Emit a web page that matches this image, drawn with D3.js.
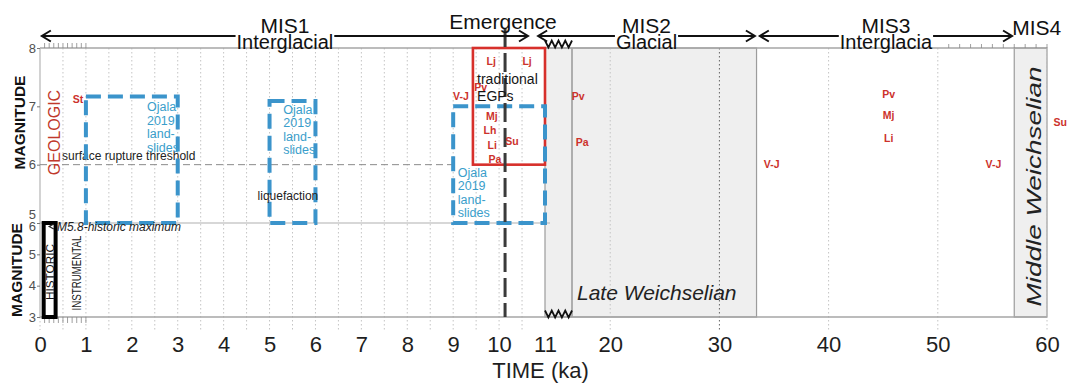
<!DOCTYPE html>
<html>
<head>
<meta charset="utf-8">
<script src="https://cdn.jsdelivr.net/npm/d3@7"></script>
<style>
  html, body { margin: 0; padding: 0; background: #fff; }
  svg { display: block; font-family: "Liberation Sans", Arial, Helvetica, sans-serif; }
</style>
</head>
<body>
<svg id="chart" width="1067" height="385"></svg>
<script>
// ---- time axis (ka) ----
const holoceneTicks = [0, 1, 2, 3, 4, 5, 6, 7, 8, 9, 10, 11];
const pleistoceneTicks = [20, 30, 40, 50, 60];
const breakAge = 16.5;              // axis break between 11 ka and the compressed older scale

// ---- magnitude axes ----
const geologicMagTicks = [5, 6, 7, 8];
const instrumentalMagTicks = [3, 4, 5, 6];

// ---- marine isotope stages ----
const stageNames = ["MIS1", "MIS2", "MIS3"];
const stageSubtitles = ["Interglacial", "Glacial", "Interglacia"];
const stageStarts = [0.04, 10.85, 33.7];
const stageEnds = [10.63, 33.25, 56.8];
const lastStageName = "MIS4";
const lastStageStart = 57;

// ---- glacial periods (shaded) ----
const lateWeichselian = [11, 33.4];
const middleWeichselian = [57, 60];

// ---- Ojala 2019 landslide windows ----
const landslideStart = [1, 5, 9];
const landslideEnd = [3, 6, 11];
const landslideBase = [5, 5, 5];
const landslideTop = [7.17, 7.09, 7.0];
const landslideLabelAge = [2.33, 5.3, 9.1];
const landslideLabelMag = [6.92, 6.87, 5.79];
const landslideLabelLines = ["Ojala", "2019", "land-", "slides"];

// ---- traditional EGP window ----
const egpAges = [9.43, 11];
const egpMags = [6, 8];
const egpLabelLines = ["traditional", "EGPs"];
const egpLabelAge = 9.52;
const egpLabelMags = [7.38, 7.1];

// ---- emergence ----
const emergenceAge = 10.13;

// ---- historic / instrumental record ----
const historicAges = [0.08, 0.34];
const historicMags = [3, 6];
const surfaceRuptureMag = 6;
const surfaceRuptureEnd = 9;

// ---- dated events ----
const eventCodes = ["St", "V-J", "Pv", "Lj", "Lj", "Mj", "Lh", "Li", "Pa", "Su",
                    "Pv", "Pa", "V-J", "Pv", "Mj", "Li", "V-J", "Su"];
const eventAges  = [0.83, 9.17, 9.6, 9.83, 10.61, 9.84, 9.8, 9.85, 9.91, 10.28,
                    17.07, 17.44, 34.78, 45.5, 45.5, 45.5, 55.1, 61.2];
const eventMags  = [7.13, 7.18, 7.33, 7.78, 7.78, 6.83, 6.59, 6.34, 6.1, 6.41,
                    7.18, 6.38, 6.01, 7.2, 6.84, 6.45, 6.0, 6.73];

// ---- scales ----
const x = d3.scaleLinear().domain([0, 11, breakAge, 60]).range([40, 545, 572, 1047]);
const yGeo = d3.scaleLinear().domain([5, 8]).range([223, 48]);
const yInst = d3.scaleLinear().domain([3, 6]).range([317, 223]);

const plotTop = yGeo(8), plotBottom = yInst(3), panelSplit = yGeo(5);
const xLeft = x(0), xRight = x(60);

const RED = "#cc322c", BLUE = "#3b94cb", BLUE_TXT = "#3a9ecb", GRID = "#c4c4c4", FRAME = "#a6a6a6";

const svg = d3.select("#chart");

// ---- shaded glacial periods ----
[lateWeichselian, middleWeichselian].forEach(p => {
  svg.append("rect")
    .attr("x", x(p[0])).attr("y", plotTop)
    .attr("width", x(p[1]) - x(p[0])).attr("height", plotBottom - plotTop)
    .attr("fill", "#efefef").attr("stroke", "#9c9c9c").attr("stroke-width", 1.2);
});
svg.append("line")
  .attr("x1", x(breakAge)).attr("x2", x(breakAge))
  .attr("y1", plotTop).attr("y2", plotBottom)
  .attr("stroke", "#999").attr("stroke-width", 1.5);

// ---- dotted vertical grid ----
const halfKa = d3.range(0.5, 11, 0.5);
svg.append("g").selectAll("line").data(halfKa).join("line")
  .attr("x1", d => x(d)).attr("x2", d => x(d))
  .attr("y1", plotTop).attr("y2", plotBottom + 13)
  .attr("stroke", GRID).attr("stroke-width", 1).attr("stroke-dasharray", "1.5,2.5");
svg.append("g").selectAll("line").data(pleistoceneTicks).join("line")
  .attr("x1", d => x(d)).attr("x2", d => x(d))
  .attr("y1", plotTop).attr("y2", plotBottom + 13)
  .attr("stroke", d => d === 30 ? "#666" : GRID).attr("stroke-width", 1)
  .attr("stroke-dasharray", "1.5,2.5");
svg.append("line")
  .attr("x1", xLeft).attr("x2", xLeft).attr("y1", plotBottom).attr("y2", plotBottom + 13)
  .attr("stroke", GRID).attr("stroke-dasharray", "1.5,2.5");

// ---- frame lines ----
svg.append("line").attr("x1", xLeft).attr("x2", xRight).attr("y1", plotTop).attr("y2", plotTop)
  .attr("stroke", FRAME).attr("stroke-width", 1.5);
svg.append("line").attr("x1", xLeft).attr("x2", xRight).attr("y1", plotBottom).attr("y2", plotBottom)
  .attr("stroke", FRAME).attr("stroke-width", 1.5);
svg.append("line").attr("x1", xLeft).attr("x2", xLeft).attr("y1", plotTop).attr("y2", plotBottom)
  .attr("stroke", "#b5b5b5").attr("stroke-width", 1.2);
svg.append("line").attr("x1", xLeft).attr("x2", x(11) + 5).attr("y1", panelSplit).attr("y2", panelSplit)
  .attr("stroke", "#b0b0b0").attr("stroke-width", 1.2);

// minor ticks
svg.append("g").selectAll("line").data(d3.range(0.1, 1.01, 0.1)).join("line")
  .attr("x1", d => x(d)).attr("x2", d => x(d)).attr("y1", plotTop).attr("y2", plotTop - 5)
  .attr("stroke", "#888").attr("stroke-width", 0.8);
svg.append("g").selectAll("line").data(d3.range(0.1, 1.01, 0.1)).join("line")
  .attr("x1", d => x(d)).attr("x2", d => x(d)).attr("y1", plotBottom).attr("y2", plotBottom + 6)
  .attr("stroke", "#888").attr("stroke-width", 0.8);
svg.append("g").selectAll("line").data(d3.range(51, 60.5, 1)).join("line")
  .attr("x1", d => x(d)).attr("x2", d => x(d)).attr("y1", plotTop).attr("y2", plotTop - 4)
  .attr("stroke", "#888").attr("stroke-width", 0.8);

// ---- axis-break zigzags ----
function zigzag(yc) {
  const n = 8, x0 = x(11), x1 = x(breakAge);
  const pts = d3.range(n + 1).map(i => [x0 + (x1 - x0) * i / n, yc + (i % 2 ? 3.5 : -3.5)]);
  svg.append("path").attr("d", d3.line()(pts))
    .attr("fill", "none").attr("stroke", "#111").attr("stroke-width", 1.8);
}
zigzag(plotTop - 4);
zigzag(plotBottom - 3);

// ---- surface rupture threshold ----
svg.append("line")
  .attr("x1", xLeft).attr("x2", x(surfaceRuptureEnd))
  .attr("y1", yGeo(surfaceRuptureMag)).attr("y2", yGeo(surfaceRuptureMag))
  .attr("stroke", "#8a8a8a").attr("stroke-width", 1).attr("stroke-dasharray", "7,4");
svg.append("text").attr("x", x(0.48)).attr("y", yGeo(6.08))
  .attr("font-size", 12).attr("fill", "#222").text("surface rupture threshold");

// ---- traditional EGP window ----
svg.append("rect")
  .attr("x", x(egpAges[0])).attr("y", yGeo(egpMags[1]))
  .attr("width", x(egpAges[1]) - x(egpAges[0])).attr("height", yGeo(egpMags[0]) - yGeo(egpMags[1]))
  .attr("fill", "none").attr("stroke", "#d7302b").attr("stroke-width", 2.6);

// ---- landslide windows ----
landslideStart.forEach((t0, i) => {
  svg.append("rect")
    .attr("x", x(t0)).attr("y", yGeo(landslideTop[i]))
    .attr("width", x(landslideEnd[i]) - x(t0))
    .attr("height", yGeo(landslideBase[i]) - yGeo(landslideTop[i]))
    .attr("fill", "none").attr("stroke", BLUE).attr("stroke-width", 4)
    .attr("stroke-dasharray", "15,7");
  const t = svg.append("text").attr("x", x(landslideLabelAge[i])).attr("y", yGeo(landslideLabelMag[i]))
    .attr("font-size", 12.5).attr("fill", BLUE_TXT);
  landslideLabelLines.forEach((s, j) => {
    t.append("tspan").attr("x", x(landslideLabelAge[i])).attr("dy", j === 0 ? 0 : 13.5).text(s);
  });
});

svg.append("text").attr("x", x(5.4)).attr("y", yGeo(5.39)).attr("text-anchor", "middle")
  .attr("font-size", 12).attr("fill", "#222").text("liquefaction");

// ---- emergence line ----
svg.append("line")
  .attr("x1", x(emergenceAge)).attr("x2", x(emergenceAge))
  .attr("y1", 28).attr("y2", plotBottom)
  .attr("stroke", "#3a3a3a").attr("stroke-width", 3).attr("stroke-dasharray", "19,6");

// ---- EGP label ----
egpLabelLines.forEach((s, j) => {
  svg.append("text").attr("x", x(egpLabelAge)).attr("y", yGeo(egpLabelMags[j]))
    .attr("font-size", 14).attr("fill", "#151515").text(s);
});

// ---- event labels ----
svg.append("g").selectAll("text").data(eventCodes).join("text")
  .attr("x", (d, i) => x(eventAges[i]))
  .attr("y", (d, i) => yGeo(eventMags[i]))
  .attr("dy", "0.36em").attr("text-anchor", "middle")
  .attr("font-size", 10.5).attr("font-weight", "bold").attr("fill", RED)
  .text(d => d);

// ---- historic / instrumental ----
svg.append("rect")
  .attr("x", x(historicAges[0])).attr("y", yInst(historicMags[1]))
  .attr("width", x(historicAges[1]) - x(historicAges[0]))
  .attr("height", yInst(historicMags[0]) - yInst(historicMags[1]))
  .attr("fill", "#fff").attr("stroke", "#000").attr("stroke-width", 4);
svg.append("path")
  .attr("d", `M${x(0.3)},${panelSplit + 1}L${x(0.2)},${panelSplit + 3.5}L${x(0.3)},${panelSplit + 6}`)
  .attr("fill", "none").attr("stroke", "#222").attr("stroke-width", 1.2);
svg.append("text").attr("x", xLeft + 17).attr("y", panelSplit + 8)
  .attr("font-size", 12).attr("font-style", "italic").attr("fill", "#222").text("M5.8-historic maximum");

const histMid = (yInst(3) + yInst(6)) / 2;
svg.append("text")
  .attr("transform", `translate(${(x(historicAges[0]) + x(historicAges[1])) / 2 + 4},${histMid + 2}) rotate(-90)`)
  .attr("text-anchor", "middle").attr("font-size", 10).attr("fill", "#111")
  .attr("textLength", 56).attr("lengthAdjust", "spacingAndGlyphs").text("HISTORIC");
svg.append("text")
  .attr("transform", `translate(${xLeft + 41},${histMid + 3}) rotate(-90)`)
  .attr("text-anchor", "middle").attr("font-size", 12.5).attr("fill", "#222")
  .attr("textLength", 75).attr("lengthAdjust", "spacingAndGlyphs").text("INSTRUMENTAL");

// ---- period names ----
svg.append("text").attr("x", x(lateWeichselian[0]) + 32).attr("y", plotBottom - 17)
  .attr("font-size", 21).attr("font-style", "italic").attr("fill", "#222").text("Late Weichselian");
svg.append("text")
  .attr("transform", `translate(${(x(middleWeichselian[0]) + x(middleWeichselian[1])) / 2 + 10},${(plotTop + plotBottom) / 2 + 4}) rotate(-90)`)
  .attr("text-anchor", "middle").attr("font-size", 21).attr("font-style", "italic").attr("fill", "#222")
  .attr("textLength", 240).attr("lengthAdjust", "spacingAndGlyphs").text("Middle Weichselian");

// ---- axes ----
const xAxis = d3.axisBottom(x)
  .tickValues(holoceneTicks.concat(pleistoceneTicks))
  .tickSize(0).tickPadding(19).tickFormat(d3.format("d"));
const gx = svg.append("g").attr("transform", `translate(0,${plotBottom})`).call(xAxis);
gx.select(".domain").remove();
gx.selectAll("text").attr("font-size", 22).attr("fill", "#1e1e1e")
  .attr("font-family", "Liberation Sans, Arial, sans-serif");

function styleY(g) {
  g.select(".domain").remove();
  g.selectAll(".tick line").attr("stroke", "#777");
  g.selectAll("text").attr("font-size", 13).attr("fill", "#505050")
    .attr("font-family", "Liberation Sans, Arial, sans-serif");
}
const gyGeo = svg.append("g").attr("transform", `translate(${xLeft},0)`)
  .call(d3.axisLeft(yGeo).tickValues(geologicMagTicks).tickSize(3).tickPadding(1).tickFormat(d3.format("d")));
styleY(gyGeo);
gyGeo.selectAll(".tick").filter(d => d === 5).select("text").attr("transform", "translate(0,-9)");
const gyInst = svg.append("g").attr("transform", `translate(${xLeft},0)`)
  .call(d3.axisLeft(yInst).tickValues(instrumentalMagTicks).tickSize(3).tickPadding(1).tickFormat(d3.format("d")));
styleY(gyInst);
gyInst.selectAll(".tick").filter(d => d === 6).select("text").attr("transform", "translate(0,3)");

svg.append("text").attr("x", (xLeft + xRight) / 2 - 3).attr("y", 378)
  .attr("text-anchor", "middle").attr("font-size", 22).attr("fill", "#1e1e1e").text("TIME (ka)");

// axis titles: upper (geologic) and lower (historic/instrumental) magnitude panels
svg.append("text").attr("transform", `translate(25,${(plotTop + panelSplit) / 2 - 13}) rotate(-90)`)
  .attr("text-anchor", "middle").attr("font-size", 15.5).attr("font-weight", "bold").attr("fill", "#111")
  .text("MAGNITUDE");
svg.append("text").attr("transform", `translate(22,${(panelSplit + plotBottom) / 2}) rotate(-90)`)
  .attr("text-anchor", "middle").attr("font-size", 15.5).attr("font-weight", "bold").attr("fill", "#111")
  .text("MAGNITUDE");
svg.append("text").attr("transform", `translate(60,${(plotTop + panelSplit) / 2 - 3}) rotate(-90)`)
  .attr("text-anchor", "middle").attr("font-size", 16).attr("fill", "#c0392b")
  .text("GEOLOGIC");

// ---- stage header arrows ----
const arrowY = 36;
function chevron(xTip, dir) {
  svg.append("path")
    .attr("d", `M${xTip + dir * 9},${arrowY - 5.5}L${xTip},${arrowY}L${xTip + dir * 9},${arrowY + 5.5}`)
    .attr("fill", "none").attr("stroke", "#111").attr("stroke-width", 2);
}
stageNames.forEach((name, i) => {
  const xs = x(stageStarts[i]), xe = x(stageEnds[i]), xm = (xs + xe) / 2;
  svg.append("text").attr("x", xm).attr("y", 33).attr("text-anchor", "middle")
    .attr("font-size", 21).attr("fill", "#111").text(name);
  const sub = svg.append("text").attr("x", xm).attr("y", 49).attr("text-anchor", "middle")
    .attr("font-size", 20).attr("fill", "#111").text(stageSubtitles[i]);
  const w = sub.node().getComputedTextLength();
  svg.append("line").attr("x1", xs).attr("x2", xm - w / 2 - 1).attr("y1", arrowY).attr("y2", arrowY)
    .attr("stroke", "#111").attr("stroke-width", 2);
  svg.append("line").attr("x1", xm + w / 2 + 1).attr("x2", xe).attr("y1", arrowY).attr("y2", arrowY)
    .attr("stroke", "#111").attr("stroke-width", 2);
  chevron(xs, 1);
  chevron(xe, -1);
});
svg.append("text").attr("x", x(lastStageStart) - 2).attr("y", 35)
  .attr("font-size", 21).attr("fill", "#111").text(lastStageName);
svg.append("text").attr("x", x(emergenceAge) - 2).attr("y", 29).attr("text-anchor", "middle")
  .attr("font-size", 21).attr("fill", "#111").text("Emergence");
</script>
</body>
</html>
